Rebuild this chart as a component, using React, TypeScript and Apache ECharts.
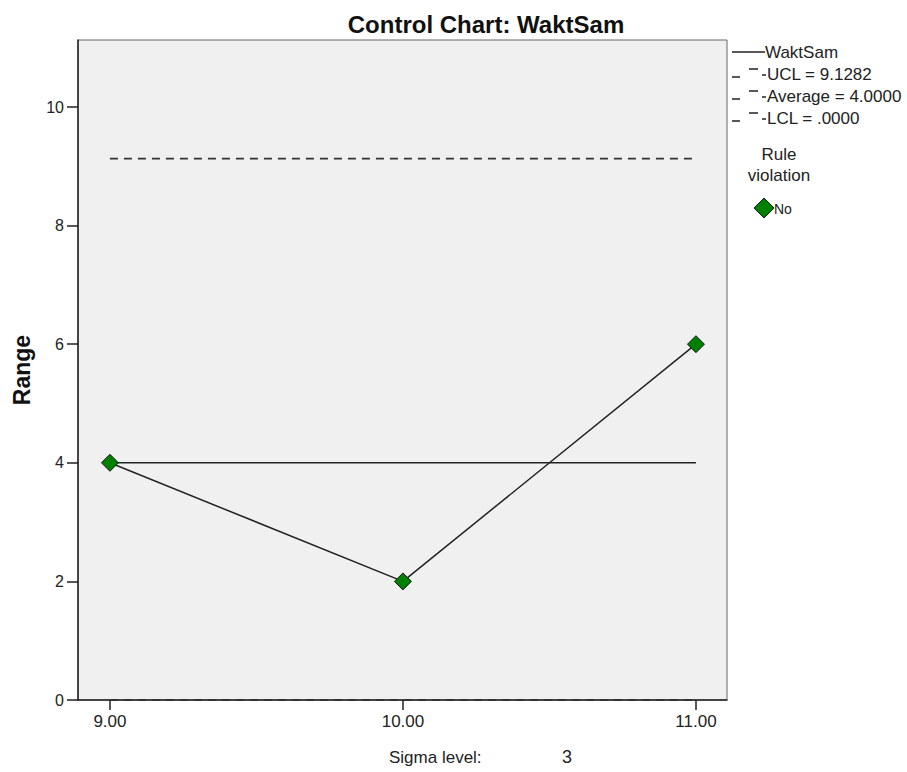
import React, { useEffect, useRef } from "react";
import * as echarts from "echarts";

const sigmaLevels = [9, 10, 11];
const rangeValues = [4, 2, 6];
const ucl = 9.1282;
const avg = 4.0;
const lcl = 0.0;
const yTicks = [0, 2, 4, 6, 8, 10];
const xTicks = [9, 10, 11];
const legendLabels = ["WaktSam", "UCL = 9.1282", "Average = 4.0000", "LCL = .0000"];

const FONT = "'Liberation Sans', Arial, sans-serif";
const NARROW = "'Liberation Sans Narrow', 'Liberation Sans', Arial, sans-serif";

export default function App() {
  const ref = useRef<HTMLDivElement>(null);
  useEffect(() => {
    if (!ref.current) return;
    const chart = echarts.init(ref.current, null, { renderer: "svg" });
    const data = sigmaLevels.map((x, i) => [x, rangeValues[i]]);
    const xMin = sigmaLevels[0];
    const xMax = sigmaLevels[sigmaLevels.length - 1];
    const seg = (x1: number, y1: number, x2: number, y2: number) => ({
      type: "line",
      shape: { x1, y1, x2, y2 },
      style: { stroke: "#222", lineWidth: 1.5 },
    });
    const dashSym = (y: number) => [
      seg(732, y + 3, 740, y + 3),
      seg(749, y - 5, 758, y - 5),
      seg(762, y + 1, 766, y + 1),
    ];
    const legendText = (x: number, y: number, t: string, size = 17) => ({
      type: "text",
      x,
      y,
      style: { text: t, fontSize: size, fontFamily: FONT, fill: "#222", verticalAlign: "middle" },
    });
    chart.setOption({
      animation: false,
      title: {
        text: "Control Chart: WaktSam",
        left: 481,
        top: 7,
        textAlign: "center",
        textStyle: { fontSize: 24, fontWeight: "bold", fontFamily: FONT, color: "#111" },
      },
      grid: {
        left: 78,
        top: 40,
        width: 649,
        height: 660,
        show: true,
        backgroundColor: "#f0f0f0",
        borderColor: "#666",
        borderWidth: 1,
      },
      xAxis: {
        type: "value",
        min: 8.891,
        max: 11.106,
        splitLine: { show: false },
        axisLine: { lineStyle: { color: "#222", width: 1.5 } },
        axisTick: { customValues: xTicks, length: 10, lineStyle: { color: "#222", width: 1.5 } },
        axisLabel: {
          customValues: xTicks,
          formatter: (v: number) => v.toFixed(2),
          fontSize: 17,
          fontFamily: NARROW,
          color: "#222",
          margin: 13,
        },
      },
      yAxis: {
        type: "value",
        min: 0,
        max: 11.13,
        name: "Range",
        nameLocation: "middle",
        nameGap: 45,
        nameTextStyle: { fontSize: 23, fontWeight: "bold", fontFamily: FONT, color: "#111" },
        splitLine: { show: false },
        axisLine: { show: true, lineStyle: { color: "#222", width: 1.5 } },
        axisTick: { show: true, customValues: yTicks, length: 11, lineStyle: { color: "#222", width: 1.5 } },
        axisLabel: {
          customValues: yTicks,
          fontSize: 16,
          fontFamily: FONT,
          color: "#222",
          margin: 14,
        },
      },
      series: [
        {
          type: "line",
          name: "UCL",
          data: [[xMin, ucl], [xMax, ucl]],
          symbol: "none",
          lineStyle: { color: "#333", width: 1.8, type: [8, 6] },
        },
        {
          type: "line",
          name: "Average",
          data: [[xMin, avg], [xMax, avg]],
          symbol: "none",
          lineStyle: { color: "#222", width: 1.5 },
        },
        {
          type: "line",
          name: "LCL",
          data: [[xMin, lcl], [xMax, lcl]],
          symbol: "none",
          lineStyle: { color: "#333", width: 1.8, type: [8, 6] },
        },
        {
          type: "line",
          name: "WaktSam",
          data,
          symbol: "diamond",
          symbolSize: 17,
          itemStyle: { color: "#008000", borderColor: "#1a1a1a", borderWidth: 1 },
          lineStyle: { color: "#222", width: 1.5 },
          z: 5,
        },
      ],
      graphic: [
        seg(732, 52, 765, 52),
        legendText(765, 52, legendLabels[0]),
        ...dashSym(74),
        legendText(767, 74, legendLabels[1]),
        ...dashSym(96),
        legendText(767, 96, legendLabels[2]),
        ...dashSym(118),
        legendText(767, 118, legendLabels[3]),
        {
          type: "text",
          x: 779,
          y: 154,
          style: { text: "Rule", fontSize: 17, fontFamily: FONT, fill: "#222", align: "center", verticalAlign: "middle" },
        },
        {
          type: "text",
          x: 779,
          y: 175,
          style: { text: "violation", fontSize: 17, fontFamily: FONT, fill: "#222", align: "center", verticalAlign: "middle" },
        },
        {
          type: "polygon",
          shape: { points: [[764, 198], [774, 208], [764, 218], [754, 208]] },
          style: { fill: "#008000", stroke: "#1a1a1a", lineWidth: 1 },
        },
        legendText(774, 209, "No", 14),
        {
          type: "text",
          x: 389,
          y: 757,
          style: { text: "Sigma level:", fontSize: 17, fontFamily: FONT, fill: "#222", verticalAlign: "middle" },
        },
        {
          type: "text",
          x: 562,
          y: 757,
          style: { text: "3", fontSize: 18, fontFamily: FONT, fill: "#222", verticalAlign: "middle" },
        },
      ],
    });
    return () => chart.dispose();
  }, []);
  return (
    <div
      ref={ref}
      style={{ position: "fixed", left: 0, top: 0, width: 907, height: 772, background: "#fff" }}
    />
  );
}
